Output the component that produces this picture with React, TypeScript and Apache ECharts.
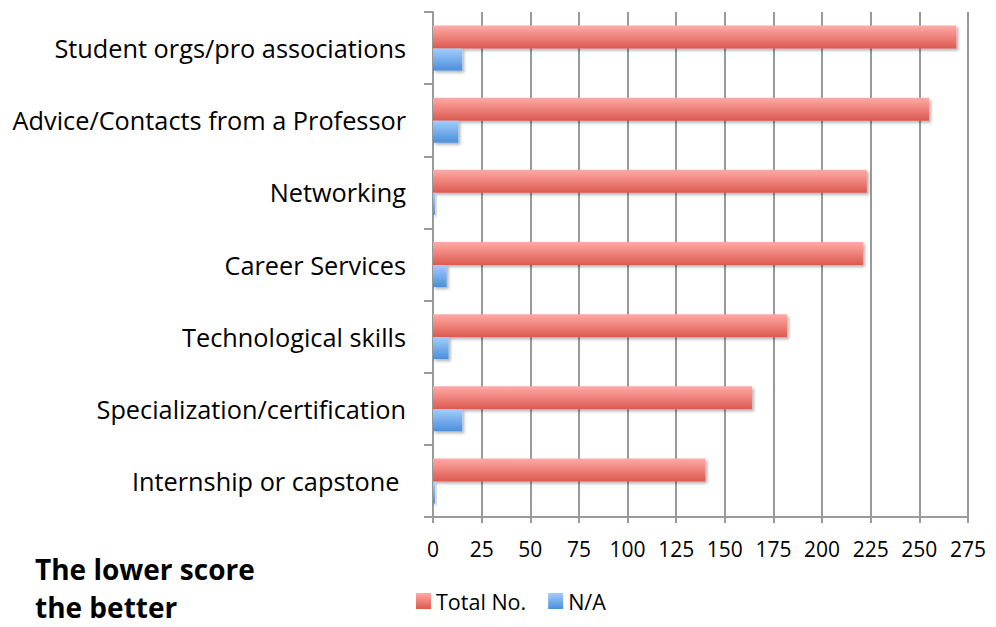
import React, { useEffect, useRef } from "react";
import * as echarts from "echarts";

const categories = [
  "Student orgs/pro associations",
  "Advice/Contacts from a Professor",
  "Networking",
  "Career Services",
  "Technological skills",
  "Specialization/certification",
  "Internship or capstone ",
];
const totalNo = [269, 255, 223, 221, 182, 164, 140];
const na = [15, 13, 1, 7, 8, 15, 1];
const xTicks = { min: 0, max: 275, interval: 25 };

const FONT = "'Open Sans', sans-serif";

export default function App() {
  const ref = useRef<HTMLDivElement>(null);
  useEffect(() => {
    if (!ref.current) return;
    const chart = echarts.init(ref.current, null, { renderer: "svg" });
    const redGrad = new echarts.graphic.LinearGradient(0, 0, 0, 1, [
      { offset: 0, color: "#ffaaa7" },
      { offset: 1, color: "#dc594f" },
    ]);
    const blueGrad = new echarts.graphic.LinearGradient(0, 0, 0, 1, [
      { offset: 0, color: "#a3ccfd" },
      { offset: 1, color: "#4a8fdb" },
    ]);
    const shadow = {
      shadowColor: "rgba(0,0,0,0.3)",
      shadowBlur: 3,
      shadowOffsetX: 2,
      shadowOffsetY: 2,
    };
    chart.setOption({
      animation: false,
      textStyle: { fontFamily: FONT },
      grid: { left: 433, right: 28, top: 12, bottom: 110, containLabel: false },
      xAxis: {
        type: "value",
        min: xTicks.min,
        max: xTicks.max,
        interval: xTicks.interval,
        axisLine: { show: true, lineStyle: { color: "#999", width: 2 } },
        axisTick: { show: true, length: 6, lineStyle: { color: "#999", width: 2 } },
        splitLine: { show: true, lineStyle: { color: "#999", width: 2 } },
        axisLabel: { color: "#000", fontSize: 21, margin: 21, fontFamily: FONT },
      },
      yAxis: {
        type: "category",
        data: categories,
        inverse: true,
        axisLine: { show: true, lineStyle: { color: "#999", width: 2 } },
        axisTick: { show: true, length: 9, lineStyle: { color: "#999", width: 2 } },
        axisLabel: { color: "#000", fontSize: 25.3, margin: 27, fontFamily: FONT },
      },
      legend: {
        left: 411,
        top: 585,
        itemWidth: 15,
        itemHeight: 16,
        itemGap: 22,
        icon: "rect",
        textStyle: { color: "#000", fontSize: 21.5, fontFamily: FONT },
        data: ["Total No.", "N/A"],
      },
      series: [
        {
          name: "Total No.",
          type: "bar",
          data: totalNo,
          barWidth: 23,
          barGap: "0%",
          itemStyle: { color: redGrad, ...shadow },
        },
        {
          name: "N/A",
          type: "bar",
          data: na,
          barWidth: 22,
          barGap: "0%",
          itemStyle: { color: blueGrad, ...shadow },
        },
      ],
      graphic: [
        {
          type: "text",
          x: 35,
          y: 569,
          style: {
            text: "The lower score",
            font: `bold 28px ${FONT}`,
            fill: "#000",
            verticalAlign: "middle",
          },
        },
        {
          type: "text",
          x: 35,
          y: 607,
          style: {
            text: "the better",
            font: `bold 28px ${FONT}`,
            fill: "#000",
            verticalAlign: "middle",
          },
        },
      ],
    });
    return () => chart.dispose();
  }, []);
  return <div ref={ref} style={{ width: 996, height: 627, position: "absolute", left: 0, top: 0 }} />;
}
